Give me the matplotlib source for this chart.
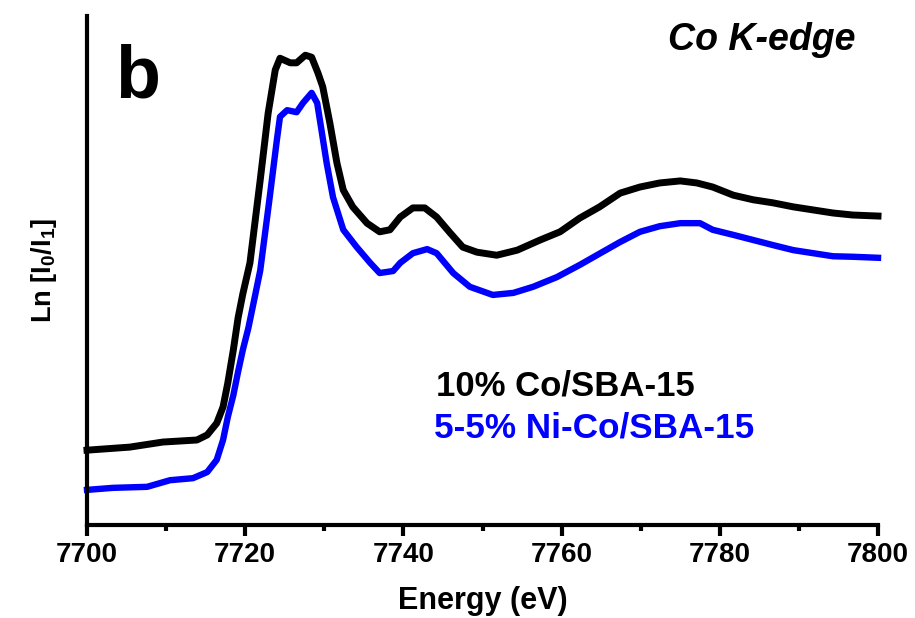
import matplotlib
matplotlib.use("Agg")
import matplotlib.pyplot as plt
from matplotlib.ticker import MultipleLocator

plt.rcParams["font.family"] = ["Liberation Sans", "DejaVu Sans"]
plt.rcParams["font.weight"] = "bold"
plt.rcParams["mathtext.fontset"] = "custom"
plt.rcParams["mathtext.rm"] = "Liberation Sans:bold"
plt.rcParams["mathtext.it"] = "Liberation Sans:bold:italic"
plt.rcParams["mathtext.bf"] = "Liberation Sans:bold"

# Co K-edge XANES spectra (normalised, arbitrary units)
energy_co = [7700.0, 7705.4, 7709.6, 7713.9, 7715.2, 7716.4, 7717.2, 7717.8, 7718.5,
             7719.1, 7719.7, 7720.6, 7721.9, 7722.9, 7723.8, 7724.4, 7725.7, 7726.5,
             7727.6, 7728.4, 7729.2, 7729.8, 7730.7, 7731.6, 7732.4, 7733.6, 7735.4,
             7737.0, 7738.3, 7739.6, 7741.2, 7742.7, 7744.2, 7745.9, 7747.5, 7749.3,
             7751.8, 7754.4, 7757.3, 7759.8, 7762.3, 7764.8, 7767.4, 7769.9, 7772.4,
             7775.0, 7777.1, 7779.1, 7781.7, 7784.2, 7786.7, 7789.3, 7791.8, 7794.3,
             7796.8, 7800.0]
absorb_co = [0.147, 0.153, 0.163, 0.167, 0.177, 0.200, 0.232, 0.279, 0.344,
             0.407, 0.454, 0.515, 0.678, 0.809, 0.894, 0.917, 0.908, 0.908,
             0.923, 0.919, 0.888, 0.861, 0.790, 0.711, 0.658, 0.625, 0.593,
             0.576, 0.580, 0.605, 0.623, 0.623, 0.605, 0.574, 0.546, 0.536,
             0.530, 0.540, 0.560, 0.576, 0.603, 0.625, 0.652, 0.664, 0.672,
             0.676, 0.672, 0.664, 0.648, 0.639, 0.633, 0.625, 0.619, 0.613,
             0.609, 0.607]

energy_nico = [7700.0, 7703.3, 7707.6, 7710.5, 7713.4, 7715.2, 7716.4, 7717.2, 7717.8,
               7718.5, 7719.1, 7719.7, 7720.4, 7721.0, 7721.9, 7723.1, 7724.0, 7724.4,
               7725.3, 7726.5, 7727.3, 7728.4, 7729.1, 7729.5, 7730.3, 7731.1, 7732.4,
               7734.1, 7735.8, 7737.0, 7738.7, 7739.6, 7741.2, 7743.0, 7744.2, 7746.3,
               7748.4, 7751.3, 7753.9, 7756.4, 7759.4, 7762.3, 7764.9, 7767.4, 7769.9,
               7772.4, 7775.0, 7777.5, 7779.1, 7781.7, 7784.2, 7786.7, 7789.3, 7791.8,
               7794.3, 7796.8, 7800.0]
absorb_nico = [0.069, 0.073, 0.075, 0.088, 0.092, 0.104, 0.128, 0.167, 0.212,
               0.255, 0.301, 0.344, 0.387, 0.432, 0.500, 0.644, 0.756, 0.802,
               0.815, 0.811, 0.829, 0.849, 0.829, 0.790, 0.711, 0.644, 0.580,
               0.546, 0.515, 0.495, 0.499, 0.515, 0.534, 0.542, 0.534, 0.495,
               0.468, 0.452, 0.456, 0.468, 0.487, 0.511, 0.534, 0.556, 0.576,
               0.587, 0.593, 0.593, 0.580, 0.570, 0.560, 0.550, 0.540, 0.534,
               0.528, 0.527, 0.525]

series_labels = ["10% Co/SBA-15", "5-5% Ni-Co/SBA-15"]
series_colors = ["#000000", "#0000ff"]
x_ticks = [7700, 7720, 7740, 7760, 7780, 7800]

W, H = 915, 618
fig = plt.figure(figsize=(W / 100, H / 100), dpi=100)
ax = fig.add_axes([87 / W, 1 - 525 / H, (878 - 87) / W, (525 - 16) / H])

ax.plot(energy_co, absorb_co, color=series_colors[0], lw=5, solid_joinstyle="round",
        clip_on=False)
ax.plot(energy_nico, absorb_nico, color=series_colors[1], lw=4.6, solid_joinstyle="round",
        clip_on=False)

ax.set_xlim(7700, 7800)
ax.set_ylim(0, 1)
ax.set_xticks(x_ticks)
ax.xaxis.set_minor_locator(MultipleLocator(10))
ax.set_yticks([])

for side in ("top", "right"):
    ax.spines[side].set_visible(False)
for side in ("left", "bottom"):
    ax.spines[side].set_linewidth(3)

ax.tick_params(axis="x", which="major", direction="out", length=8, width=3,
               labelsize=20, pad=4.5)
ax.tick_params(axis="x", which="minor", direction="out", length=4.5, width=3)
for lbl in ax.get_xticklabels():
    lbl.set_fontweight("bold")

ax.set_xlabel("Energy (eV)", fontsize=22, fontweight="bold", labelpad=13)
ax.set_ylabel("Ln [I$_0$/I$_1$]", fontsize=19.5, fontweight="bold", labelpad=20)

# panel letter and edge annotation
fig.text(115 / W, 1 - 98 / H, "b", fontsize=53, fontweight="bold",
         ha="left", va="baseline")
fig.text(856 / W, 1 - 50 / H, "Co K-edge", fontsize=27, fontweight="bold",
         fontstyle="italic", ha="right", va="baseline")

# in-plot legend text
fig.text(436 / W, 1 - 395 / H, series_labels[0], fontsize=25, fontweight="bold",
         color=series_colors[0], ha="left", va="baseline")
fig.text(434 / W, 1 - 438 / H, series_labels[1], fontsize=25.3, fontweight="bold",
         color=series_colors[1], ha="left", va="baseline")

fig.savefig("out.png", dpi=100)
